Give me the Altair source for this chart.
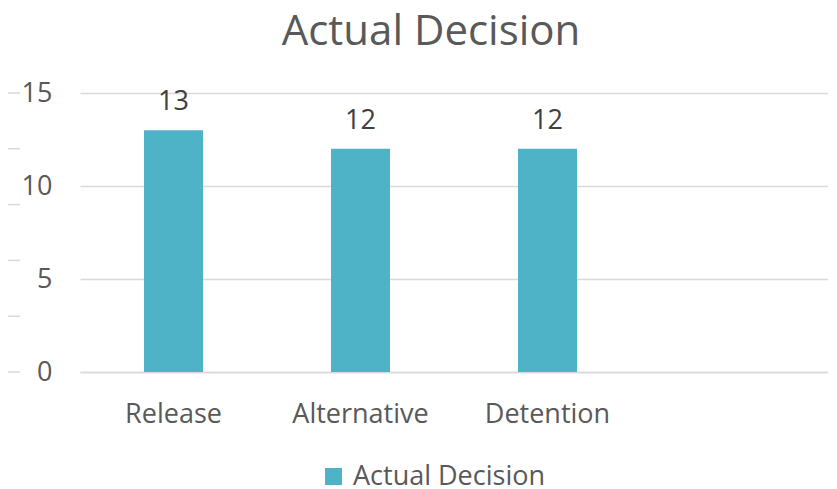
import altair as alt
import pandas as pd

categories = ["Release", "Alternative", "Detention", " "]
values = [13, 12, 12, None]
series_name = "Actual Decision"
minor_ticks = [0, 3, 6, 9, 12, 15]

df = pd.DataFrame({"category": categories, "value": values, "series": series_name})
ticks_df = pd.DataFrame({"t": minor_ticks})

FONT = "Open Sans"
GRAY = "#595959"
BAR = "#4FB3C8"

x = alt.X("category:N", sort=categories, title=None,
          scale=alt.Scale(paddingInner=0, paddingOuter=0),
          axis=alt.Axis(labelAngle=0, labelFontSize=27, labelColor=GRAY, labelFont=FONT,
                        labelPadding=29, ticks=False, domain=True, domainColor="#D9D9D9",
                        domainWidth=1.5))
y_scale = alt.Scale(domain=[0, 15], nice=False)

bars = alt.Chart(df).mark_bar(size=59).encode(
    x=x,
    y=alt.Y("value:Q", scale=y_scale, title=None,
            axis=alt.Axis(values=[0, 5, 10, 15], labelFontSize=27, labelColor=GRAY,
                          labelFont=FONT, labelPadding=28, ticks=False, domain=False,
                          grid=True, gridColor="#D9D9D9", gridWidth=1.5)),
    color=alt.Color("series:N", scale=alt.Scale(range=[BAR]),
                    legend=alt.Legend(title=None, orient="none", legendX=240, legendY=370,
                                      symbolType="square", symbolSize=289, symbolStrokeWidth=0,
                                      labelFontSize=27, labelColor=GRAY, labelFont=FONT,
                                      labelLimit=0, padding=0, symbolOffset=0, labelOffset=6)),
)

labels = alt.Chart(df).transform_filter("datum.value != null").mark_text(
    dy=-14, fontSize=27, color="#404040", font=FONT, baseline="bottom"
).encode(
    x=alt.X("category:N", sort=categories),
    y=alt.Y("value:Q", scale=y_scale),
    text=alt.Text("value:Q"),
)

minor = alt.Chart(ticks_df).mark_rule(color="#D9D9D9", strokeWidth=1.5).encode(
    y=alt.Y("t:Q", scale=y_scale),
    x=alt.value(-72),
    x2=alt.value(-60),
)

chart = alt.layer(bars, labels, minor).properties(
    width=748, height=279,
    autosize=alt.AutoSizeParams(type="none"),
    padding={"left": 72, "top": 85, "right": 0, "bottom": 115},
    title=alt.TitleParams(series_name, fontSize=42, font=FONT, color=GRAY, fontWeight="normal",
                          anchor="middle", dx=-23, offset=25),
).configure_view(stroke=None)

chart.save("out.html", embed_options={"renderer": "svg", "actions": False})
